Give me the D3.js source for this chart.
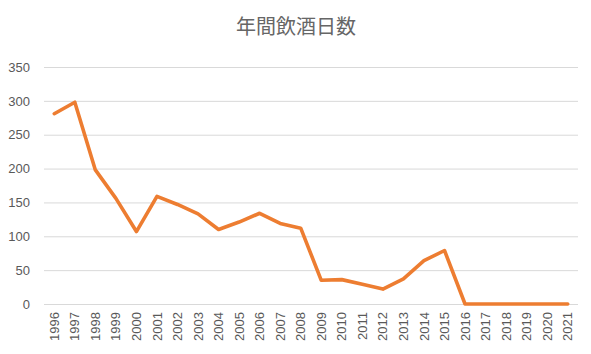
<!DOCTYPE html>
<html lang="ja">
  <head>
    <script src="https://d3js.org/d3.v7.min.js"></script>
    <meta charset="UTF-8" />
    <title>年間飲酒日数</title>
    <style>
      body { margin: 0; background: #fff; }
      text { font-family: "Noto Sans CJK JP", "Noto Sans", sans-serif; }
    </style>
  </head>
  <body>
    <svg width="591" height="354"></svg>
    <script>
      var years = ["1996", "1997", "1998", "1999", "2000", "2001", "2002", "2003", "2004",
        "2005", "2006", "2007", "2008", "2009", "2010", "2011", "2012", "2013", "2014",
        "2015", "2016", "2017", "2018", "2019", "2020", "2021"];
      var days = [281, 298, 198, 156, 107, 159, 147, 133, 110, 121, 134, 119, 112, 35,
        36, 29, 22, 37, 64, 79, 0, 0, 0, 0, 0, 0];
      var yTicks = [0, 50, 100, 150, 200, 250, 300, 350];

      var svg = d3.select("svg");
      var plotLeft = 44, plotRight = 578, plotTop = 67, plotBottom = 304;

      var x = d3.scaleBand().domain(years).range([plotLeft, plotRight]);
      var y = d3.scaleLinear().domain([0, 350]).range([plotBottom, plotTop]);

      svg.append("text")
        .attr("x", 296)
        .attr("y", 34)
        .attr("text-anchor", "middle")
        .attr("font-size", "20px")
        .attr("fill", "#666")
        .text("年間飲酒日数");

      // gridlines
      svg.append("g")
        .selectAll("line")
        .data(yTicks)
        .enter()
        .append("line")
        .attr("x1", plotLeft)
        .attr("x2", plotRight)
        .attr("y1", function (d) { return y(d) + 0.5; })
        .attr("y2", function (d) { return y(d) + 0.5; })
        .attr("stroke", "#d9d9d9")
        .attr("stroke-width", 1);

      var yAxis = svg.append("g")
        .attr("transform", "translate(" + (plotLeft - 14) + ",0)")
        .call(d3.axisLeft(y).tickValues(yTicks).tickSize(0).tickPadding(0));
      yAxis.select(".domain").remove();
      yAxis.selectAll("text")
        .attr("font-size", "13px")
        .attr("fill", "#595959")
        .style("font-family", "'Liberation Sans', Arial, sans-serif");

      var xAxis = svg.append("g")
        .attr("transform", "translate(0," + plotBottom + ")")
        .call(d3.axisBottom(x).tickSize(0));
      xAxis.select(".domain").remove();
      xAxis.selectAll("text")
        .attr("transform", "rotate(-90)")
        .attr("text-anchor", "end")
        .attr("x", -8)
        .attr("y", 0)
        .attr("dy", "0.35em")
        .attr("font-size", "13px")
        .attr("fill", "#595959")
        .style("font-family", "'Liberation Sans', Arial, sans-serif");

      var line = d3.line()
        .x(function (d, i) { return x(years[i]) + x.bandwidth() / 2; })
        .y(function (d) { return y(d); });

      svg.append("path")
        .datum(days)
        .attr("d", line)
        .attr("fill", "none")
        .attr("stroke", "#ED7D31")
        .attr("stroke-width", 3.6)
        .attr("stroke-linejoin", "round")
        .attr("stroke-linecap", "round");
    </script>
  </body>
</html>
